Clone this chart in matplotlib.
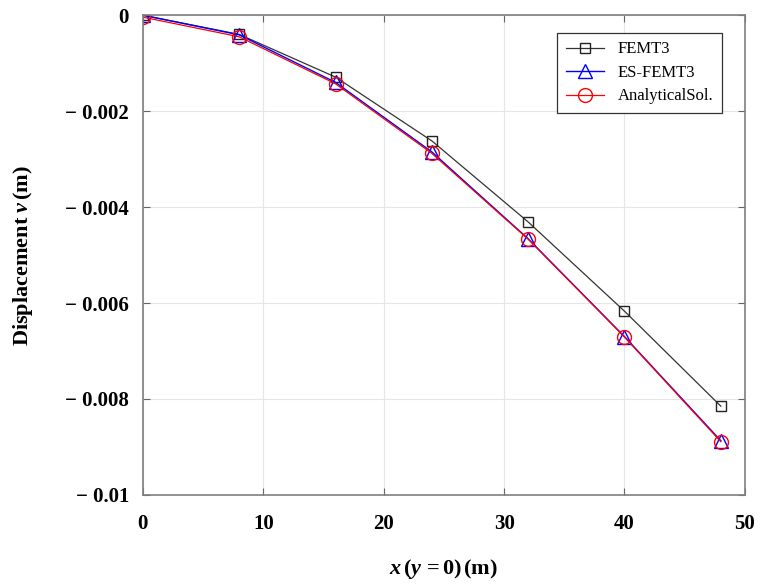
import matplotlib
matplotlib.use("Agg")
import matplotlib.pyplot as plt

x = [0, 8, 16, 24, 32, 40, 48]
femt3 = [0.0, -0.00040, -0.00129, -0.00262, -0.00431, -0.00617, -0.00815]
es_femt3 = [0.0, -0.00041, -0.00140, -0.00285, -0.00466, -0.00670, -0.00887]
analytical = [-0.00004, -0.00045, -0.00143, -0.00288, -0.00467, -0.00671, -0.00889]

xticks = [0, 10, 20, 30, 40, 50]
yticks = [0, -0.002, -0.004, -0.006, -0.008, -0.01]
ytick_labels = ["0", "\u2212 0.002", "\u2212 0.004", "\u2212 0.006", "\u2212 0.008", "\u2212 0.01"]

plt.rcParams["font.family"] = ["Liberation Serif", "DejaVu Serif"]
plt.rcParams["mathtext.fontset"] = "custom"
plt.rcParams["mathtext.rm"] = "Liberation Serif"
plt.rcParams["mathtext.it"] = "Liberation Serif:italic"
plt.rcParams["mathtext.bf"] = "Liberation Serif:bold"
plt.rcParams["mathtext.bfit"] = "Liberation Serif:bold:italic"

fig = plt.figure(figsize=(7.64, 5.85), dpi=100)
ax = fig.add_axes([0.187, 0.154, 0.788, 0.820])

ax.plot(x, femt3, color="#333333", lw=0.9, marker="s", ms=7, mfc="none", mec="#222222", mew=1.0, label="FEMT3")
ax.plot(x, es_femt3, color="blue", lw=1.0, marker="^", ms=10, mfc="none", mec="blue", mew=1.0, label="ES-FEMT3")
ax.plot(x, analytical, color="red", lw=0.9, marker="o", ms=10, mfc="none", mec="red", mew=1.0, label="AnalyticalSol.")

ax.set_xlim(0, 50)
ax.set_ylim(-0.01, 0)
ax.set_xticks(xticks)
ax.set_xticklabels([str(t) for t in xticks], fontweight="bold", fontsize=15)
ax.set_yticks(yticks)
ax.set_yticklabels(ytick_labels, fontweight="bold", fontsize=15)
ax.tick_params(direction="in", top=True, right=True, length=5, color="#666666")
ax.tick_params(axis="x", pad=14)
ax.tick_params(axis="y", pad=10)
ax.grid(True, color="#e6e6e6", lw=0.8)
ax.set_axisbelow(True)
for s in ax.spines.values():
    s.set_color("#7f7f7f")
    s.set_linewidth(1.2)

ax.set_xlabel(r"$\mathbfit{x}\,\mathbf{(}\mathbfit{y}\,\mathbf{=0)\,(m)}$", fontsize=16, labelpad=16)
ax.set_ylabel(r"$\mathbf{Displacement}\ \mathbfit{v}\,\mathbf{(m)}$", fontsize=16, labelpad=22)

leg = ax.legend(loc="upper right", bbox_to_anchor=(0.975, 0.98), fancybox=False, framealpha=1,
                edgecolor="#333333", fontsize=12, handlelength=2.3, borderpad=0.5, labelspacing=0.45)
leg.get_frame().set_linewidth(0.9)

fig.savefig("out.png", dpi=100)
